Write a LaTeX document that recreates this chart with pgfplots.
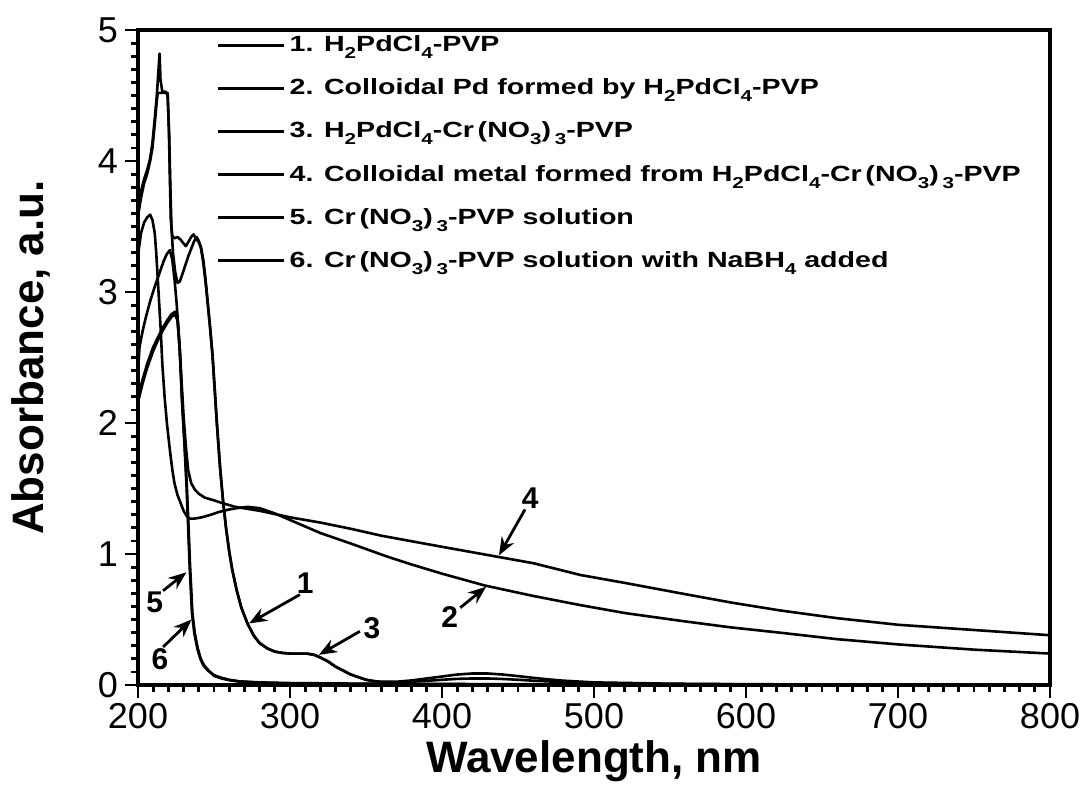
\documentclass[border=0pt]{standalone}
\usepackage{pgfplots}
\pgfplotsset{compat=1.18}
\usepackage{graphicx}
\usepackage{fontspec}
\setmainfont{Liberation Sans}
\newfontfamily\legfont[FakeStretch=1.3]{Liberation Sans}
\usetikzlibrary{arrows.meta}

\newcommand{\sub}[1]{\raisebox{-0.6ex}{\scalebox{0.72}{#1}}}
\newcommand{\crn}{Cr\,(NO\sub{3})\,\sub{3}}
\newcommand{\pd}{H\sub{2}PdCl\sub{4}}

\begin{document}
\begin{tikzpicture}
\begin{axis}[
  scale only axis,
  width=456pt, height=327.5pt,
  xmin=200, xmax=800, ymin=0, ymax=5,
  xtick={200,300,...,800}, ytick={0,1,...,5},
  minor x tick num=9, minor y tick num=9,
  xtick pos=bottom, ytick pos=left,
  tick align=outside,
  major tick length=6.5pt, minor tick length=3.5pt,
  axis line style={line width=1.6pt},
  every tick/.style={line width=1.4pt, black},
  /pgf/number format/assume math mode=true,
  ticklabel style={font=\fontsize{18}{18}\selectfont},
  xticklabel style={yshift=1pt},
  xlabel={Wavelength, nm},
  ylabel={Absorbance, a.u.},
  label style={font=\bfseries\fontsize{22}{24}\selectfont},
  xlabel style={yshift=1pt},
  ylabel style={yshift=17pt},
  legend cell align=left,
  legend style={draw=none, fill=none, at={(0.086,0.998)}, anchor=north west,
    font=\legfont\bfseries\fontsize{11}{13}\selectfont, row sep=8.1pt, inner sep=0pt},
  legend image code/.code={\draw[#1, line width=1.4pt] (0pt,0pt) -- (33pt,0pt);},
  every axis plot post/.append style={black, solid, mark=none, line width=1.3pt, line join=round},
]
% 1. H2PdCl4-PVP
\addplot coordinates {
(200,3.64) (202,3.77) (204,3.86) (206,3.93) (208,4.02) (209.5,4.14) (211,4.32) (212.5,4.52)
(213.5,4.70) (214.2,4.82) (214.8,4.62) (216,4.53) (218,4.53) (219.5,4.50) (220.5,4.20)
(221.3,3.80) (222,3.50) (223,3.30) (224.5,3.15) (226,3.07) (227.5,3.08) (229,3.13) (231,3.20)
(233,3.27) (235,3.33) (237,3.39) (238.5,3.42) (240,3.39) (241.5,3.33) (243,3.22) (244.5,3.07)
(246,2.90) (247.5,2.72) (249,2.52) (250.5,2.25) (252,1.98) (254,1.66) (256,1.40) (258,1.19)
(260,1.02) (262,0.88) (265,0.72) (268,0.59) (272,0.47) (276,0.38) (280,0.32) (285,0.28)
(290,0.255) (295,0.245) (300,0.24) (305,0.24) (311,0.24) (316,0.23) (320,0.21) (325,0.18)
(330,0.14) (335,0.11) (340,0.08) (345,0.06) (350,0.04) (355,0.03) (360,0.025) (370,0.025)
(380,0.035) (390,0.05) (400,0.065) (410,0.08) (420,0.088) (430,0.088) (440,0.08) (450,0.068)
(460,0.055) (470,0.043) (480,0.033) (500,0.02) (550,0.01) (600,0.006) (700,0.003) (800,0.002)
};
\addlegendentry{1. \pd-PVP}
% 2. Colloidal Pd
\addplot coordinates {
(200,3.28) (202,3.45) (204,3.53) (206,3.57) (208,3.59) (209.5,3.55) (211,3.45) (212,3.30)
(213,3.10) (214,2.90) (215,2.70) (216,2.45) (217.5,2.20) (219,2.00) (221,1.79) (222.5,1.65)
(224,1.54) (226,1.45) (228,1.39) (230,1.33) (232,1.29) (234,1.27) (237,1.27) (242,1.28)
(248,1.30) (253,1.32) (260,1.34) (265,1.35) (272,1.36) (280,1.35) (290,1.31) (300,1.26)
(310,1.21) (320,1.16) (340,1.08) (364,0.98) (380,0.92) (400,0.85) (428,0.76) (460,0.68)
(491,0.61) (520,0.55) (557,0.49) (590,0.44) (622,0.40) (660,0.35) (700,0.31) (750,0.27) (800,0.24)
};
\addlegendentry{2. Colloidal Pd formed by \pd-PVP}
% 3. H2PdCl4-Cr(NO3)3-PVP
\addplot coordinates {
(200,3.58) (202,3.72) (204,3.83) (206,3.90) (208,4.00) (209.5,4.10) (211,4.28) (212.3,4.45)
(213,4.52) (216,4.52) (219.5,4.52) (220.3,4.25) (221,3.85) (221.6,3.55) (222.5,3.43) (224,3.41)
(226,3.42) (228,3.40) (230,3.37) (231.5,3.35) (233,3.38) (235,3.42) (236.5,3.44) (238,3.41)
(240,3.38) (241.5,3.34) (243,3.24) (244.5,3.09) (246,2.90) (247.5,2.72) (249,2.52) (250.5,2.25)
(252,1.98) (254,1.66) (256,1.40) (258,1.19) (260,1.02) (262,0.88) (265,0.72) (268,0.59)
(272,0.47) (276,0.38) (280,0.32) (285,0.28) (290,0.255) (295,0.245) (300,0.24) (305,0.24)
(311,0.24) (316,0.23) (320,0.21) (325,0.18) (330,0.14) (335,0.11) (340,0.08) (345,0.06)
(350,0.04) (355,0.03) (360,0.022) (370,0.02) (380,0.025) (390,0.032) (400,0.04) (410,0.047)
(420,0.05) (430,0.05) (440,0.046) (450,0.04) (460,0.033) (480,0.022) (500,0.015) (550,0.008)
(600,0.005) (700,0.002) (800,0.001)
};
\addlegendentry{3. \pd-\crn-PVP}
% 4. Colloidal metal from H2PdCl4-Cr(NO3)3-PVP
\addplot coordinates {
(200,2.40) (201,2.58) (203,2.70) (205,2.80) (208,2.93) (211,3.04) (214,3.14) (217,3.24)
(219,3.29) (221,3.32) (222.5,3.25) (224,3.10) (225.5,2.90) (227,2.65) (228.5,2.35) (230,2.05)
(231.5,1.82) (233,1.64) (235,1.54) (237.5,1.49) (240,1.46) (244,1.43) (250,1.41) (255,1.39)
(264,1.36) (280,1.33) (300,1.28) (320,1.24) (341,1.19) (360,1.14) (400,1.055) (436,0.98)
(460,0.93) (491,0.84) (520,0.78) (557,0.70) (590,0.63) (622,0.57) (660,0.51) (700,0.46)
(750,0.42) (800,0.38)
};
\addlegendentry{4. Colloidal metal formed from \pd-\crn-PVP}
% 5. Cr(NO3)3-PVP
\addplot coordinates {
(200,2.20) (203,2.33) (206,2.45) (210,2.58) (213,2.65) (216,2.72) (219,2.78) (222,2.83)
(224.5,2.85) (226,2.80) (227.5,2.55) (229,2.15) (230.5,1.85) (232,1.50) (233,1.20) (234,0.90)
(235.5,0.55) (237,0.40) (239,0.28) (241,0.20) (243,0.15) (246,0.11) (250,0.075) (255,0.055)
(260,0.04) (267,0.028) (280,0.02) (300,0.015) (350,0.01) (400,0.008) (500,0.004) (800,0.001)
};
\addlegendentry{5. \crn-PVP solution}
% 6. Cr(NO3)3-PVP + NaBH4
\addplot coordinates {
(200,2.16) (203,2.30) (206,2.42) (210,2.55) (213,2.63) (216,2.70) (219,2.76) (222,2.81)
(224.5,2.83) (226,2.78) (227.5,2.56) (229,2.18) (230.5,1.88) (232,1.55) (233.2,1.22) (234.3,0.90)
(235.8,0.55) (237.3,0.40) (239.3,0.28) (241.3,0.20) (243.5,0.15) (246.5,0.11) (250,0.07)
(255,0.05) (260,0.037) (267,0.025) (280,0.018) (300,0.012) (350,0.008) (400,0.006) (500,0.003) (800,0.0)
};
\addlegendentry{6. \crn-PVP solution with NaBH\sub{4} added}

\coordinate (O) at (rel axis cs:0,0);
\coordinate (T) at (rel axis cs:1,1);

\begin{scope}[line width=1.4pt, -{Stealth[length=9pt,width=7pt]},
  every node/.style={font=\bfseries\fontsize{15}{15}\selectfont}]
\draw (axis cs:216.5,0.72) -- (axis cs:231.8,0.86);
\node at (axis cs:211,0.63) {5};
\draw (axis cs:216.5,0.29) -- (axis cs:235.2,0.5);
\node at (axis cs:214.5,0.2) {6};
\draw (axis cs:306.5,0.69) -- (axis cs:273,0.47);
\node at (axis cs:310,0.78) {1};
\draw (axis cs:346,0.41) -- (axis cs:319,0.23);
\node at (axis cs:354,0.43) {3};
\draw (axis cs:454.6,1.34) -- (axis cs:437.5,0.99);
\node at (axis cs:458,1.43) {4};
\draw (axis cs:412,0.59) -- (axis cs:429,0.75);
\node at (axis cs:405,0.52) {2};
\end{scope}
\end{axis}
\pgfresetboundingbox
\path (O) ++(-69pt,-54.5pt) coordinate (bl);
\path (T) ++(19pt,15pt) coordinate (tr);
\path[use as bounding box] (bl) rectangle (tr);
\end{tikzpicture}
\end{document}
